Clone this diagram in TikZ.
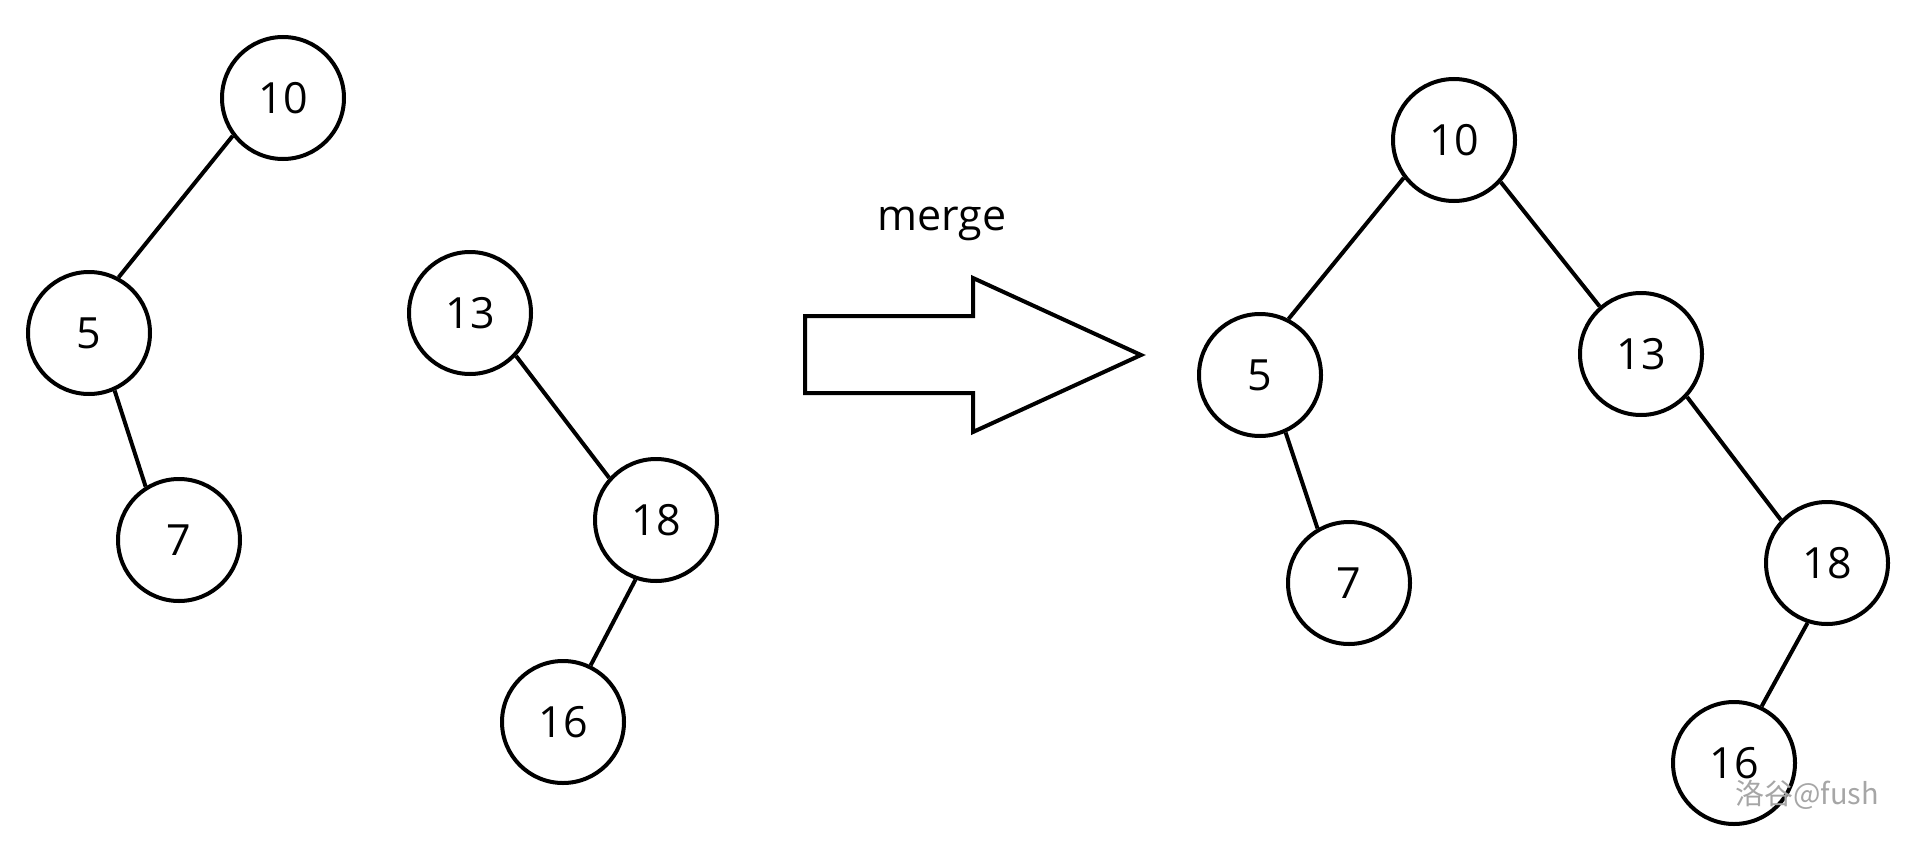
\documentclass[tikz,border=0pt]{standalone}
\usepackage{fontspec}
\setmainfont{Open Sans}
\newfontfamily\cjk{Noto Sans CJK SC}
\begin{document}
\begin{tikzpicture}[x=1pt,y=-1pt,
  tnode/.style={circle,draw,line width=4pt,minimum size=122pt,inner sep=0pt,font=\fontsize{43}{50}\selectfont},
  tedge/.style={line width=4pt}]
\useasboundingbox (0,0) rectangle (1920,843);
% left trees
\node[tnode] (a10) at (283,98) {10};
\node[tnode] (a5) at (89,333) {5};
\node[tnode] (a7) at (179,540) {7};
\draw[tedge] (a10.217) -- (a5.62);
\draw[tedge] (a5.294) -- (a7.122);
\node[tnode] (b13) at (470,313) {13};
\node[tnode] (b18) at (656,520) {18};
\node[tnode] (b16) at (563,722) {16};
\draw[tedge] (b13.317) -- (b18.138);
\draw[tedge] (b18.251) -- (b16.64);
% arrow
\draw[line width=4pt,line join=miter] (805,316) -- (973,316) -- (973,278) -- (1141,355) -- (973,432) -- (973,393) -- (805,393) -- cycle;
\node[font=\fontsize{43}{50}\selectfont] (merge) at (942,224) {merge};
% right tree
\node[tnode] (c10) at (1454,140) {10};
\node[tnode] (c5) at (1260,375) {5};
\node[tnode] (c7) at (1349,583) {7};
\node[tnode] (c13) at (1641,354) {13};
\node[tnode] (c18) at (1827,563) {18};
\node[tnode] (c16) at (1734,763) {16};
\draw[tedge] (c10.217) -- (c5.63);
\draw[tedge] (c5.294) -- (c7.120);
\draw[tedge] (c10.318) -- (c13.131);
\draw[tedge] (c13.317) -- (c18.137);
\draw[tedge] (c18.252) -- (c16.64);
% watermark
\node[text=black!35,font=\cjk\fontsize{29}{34}\selectfont,anchor=west,inner sep=0pt] (wm) at (1735,795) {洛谷@fush};
\end{tikzpicture}
\end{document}
